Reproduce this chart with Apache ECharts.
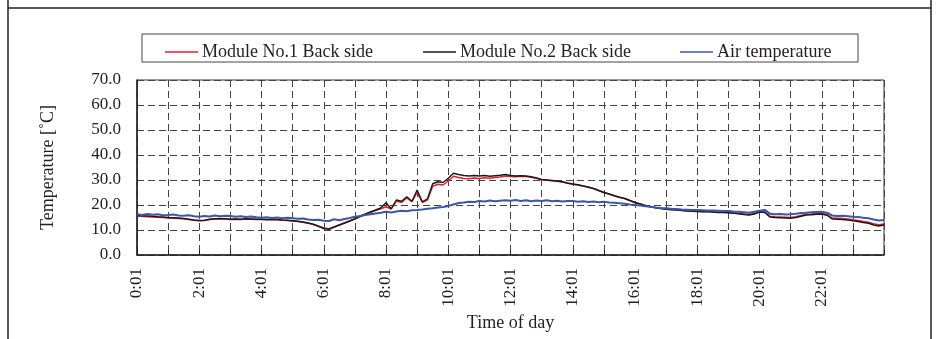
<!DOCTYPE html>
<html>
<head>
<meta charset="utf-8">
<script src="https://cdn.jsdelivr.net/npm/echarts@6/dist/echarts.min.js"></script>
<style>
html,body{margin:0;padding:0;background:#fff;}
#chart{width:937px;height:339px;}
</style>
</head>
<body>
<div id="chart"></div>
<script>
// Time step of samples (minutes from 0:01)
const stepMinutes = 10;
const seriesNames = ['Module No.1 Back side', 'Module No.2 Back side', 'Air temperature'];
const yTicks = [0, 10, 20, 30, 40, 50, 60, 70];
const xLabelHours = ['0:01','2:01','4:01','6:01','8:01','10:01','12:01','14:01','16:01','18:01','20:01','22:01'];

const module1 = [
  15.6, 15.5, 15.3, 15.2, 15.1, 15.0,
  14.8, 14.7, 14.6, 14.5, 14.2, 13.9,
  13.7, 13.8, 14.2, 14.4, 14.5, 14.4,
  14.2, 14.3, 14.2, 14.4, 14.3, 14.2,
  14.2, 14.1, 14.2, 14.1, 13.9, 13.8,
  13.6, 13.4, 13.1, 12.7, 12.2, 11.5,
  10.8, 10.5, 11.2, 12.0, 12.8, 13.6,
  14.4, 15.3, 16.2, 17.0, 17.8, 18.5,
  19.3, 18.4, 21.6, 21.0, 22.8, 21.3,
  25.0, 21.0, 22.0, 27.5, 28.3, 28.0,
  29.6, 31.5, 31.0, 30.6, 30.5, 30.8,
  30.6, 30.9, 30.7, 31.0, 31.2, 31.6,
  31.4, 31.3, 31.5, 31.4, 31.1, 30.7,
  30.1, 29.9, 29.7, 29.5, 29.2, 28.7,
  28.3, 28.0, 27.6, 27.2, 26.6, 25.8,
  25.0, 24.4, 23.7, 23.1, 22.6, 21.8,
  21.0, 20.4, 19.8, 19.3, 18.9, 18.6,
  18.4, 18.2, 18.1, 17.9, 17.7, 17.6,
  17.5, 17.4, 17.4, 17.3, 17.1, 17.1,
  17.0, 16.8, 16.6, 16.4, 16.2, 16.6,
  17.4, 17.2, 15.5, 15.3, 15.2, 15.1,
  15.0, 15.3, 15.8, 16.3, 16.4, 16.6,
  16.7, 16.2, 14.8, 14.7, 14.6, 14.4,
  14.1, 13.8, 13.4, 13.1, 12.5, 12.1,
  12.4
];

const module2 = [
  15.8, 15.7, 15.6, 15.5, 15.3, 15.2,
  15.0, 14.9, 14.8, 14.6, 14.3, 14.0,
  13.8, 13.9, 14.3, 14.5, 14.6, 14.5,
  14.3, 14.4, 14.3, 14.5, 14.4, 14.3,
  14.3, 14.2, 14.3, 14.2, 14.0, 13.9,
  13.7, 13.5, 13.2, 12.8, 12.3, 11.5,
  10.6, 10.3, 11.2, 12.0, 12.8, 13.6,
  14.5, 15.5, 16.4, 17.2, 18.0, 18.8,
  20.9, 18.5, 22.0, 21.5, 23.3, 21.5,
  26.0, 21.3, 22.5, 28.5, 29.3, 29.0,
  30.7, 32.7, 32.2, 31.8, 31.6, 31.8,
  31.6, 31.8, 31.5, 31.7, 31.9, 32.2,
  31.8, 31.6, 31.7, 31.6, 31.3, 30.8,
  30.2, 30.0, 29.8, 29.6, 29.3, 28.8,
  28.4, 28.1, 27.6, 27.1, 26.6, 25.8,
  25.0, 24.4, 23.7, 23.1, 22.6, 21.8,
  21.0, 20.4, 19.8, 19.3, 18.9, 18.6,
  18.3, 18.1, 18.0, 17.8, 17.6, 17.5,
  17.4, 17.3, 17.3, 17.2, 17.0, 17.0,
  16.9, 16.7, 16.5, 16.2, 16.0, 16.4,
  17.2, 17.0, 15.2, 15.0, 14.9, 14.8,
  14.7, 15.0, 15.5, 16.0, 16.1, 16.3,
  16.4, 15.9, 14.4, 14.3, 14.2, 14.0,
  13.7, 13.4, 13.0, 12.7, 12.0, 11.6,
  12.0
];

const airTemp = [
  16.3, 16.0, 16.4, 16.1, 16.3, 15.9,
  16.0, 16.2, 15.8, 15.7, 15.9, 15.5,
  15.3, 15.6, 15.4, 15.8, 15.5, 15.7,
  15.6, 15.3, 15.5, 15.2, 15.4, 15.1,
  14.9, 15.1, 14.8, 15.0, 14.7, 14.9,
  14.7, 14.5, 14.6, 14.2, 14.0, 14.1,
  13.7, 13.6, 14.3, 13.9, 14.4, 14.8,
  15.3, 15.6, 16.0, 16.3, 16.6, 16.9,
  17.3, 17.0, 17.4, 17.7, 17.5, 17.9,
  18.0, 18.2, 18.5, 18.7, 19.0, 19.2,
  19.6, 20.2, 20.8, 21.0, 21.3, 21.2,
  21.6, 21.4, 21.8, 21.5, 21.7, 21.9,
  21.7, 22.0, 21.6, 21.9, 21.5, 21.8,
  21.6, 21.9, 21.5, 21.7, 21.4, 21.6,
  21.6, 21.3, 21.5, 21.2, 21.4, 21.1,
  21.3, 21.0, 20.9, 20.7, 20.5, 20.2,
  20.0, 19.8, 19.5, 19.3, 19.0, 18.8,
  18.7, 18.5, 18.4, 18.2, 18.1, 18.0,
  18.0, 17.9, 17.8, 17.8, 17.7, 17.6,
  17.6, 17.4, 17.3, 17.1, 16.9, 17.3,
  17.7, 18.0, 16.5, 16.3, 16.4, 16.2,
  16.3, 16.5, 16.8, 16.9, 17.1, 17.2,
  17.3, 16.9, 15.8, 15.6, 15.7, 15.5,
  15.3, 15.2, 14.9, 14.7, 14.2, 13.8,
  14.0
];

const colors = ['#ed1c24', '#1a1a1a', '#3b57a8'];
const FONT = 'Liberation Serif';
const TXT = '#231f20';

function pairs(arr){ return arr.map((v,i)=>[i*stepMinutes, v]); }

const chart = echarts.init(document.getElementById('chart'), null, {renderer:'canvas'});

const legendLefts = [160, 418, 675];
const legends = seriesNames.map((n,i)=>({
  data:[{name:n, icon:'rect'}],
  left: legendLefts[i], top: 38,
  itemWidth: 33, itemHeight: 1.6, itemGap: 4,
  textStyle:{fontFamily:FONT, fontSize:18, color:TXT, padding:[0,0,0,-1]},
  selectedMode:false
}));

const option = {
  backgroundColor:'#fff',
  animation:false,
  color: colors,
  legend: legends,
  grid:{left:137, right:53, top:80, bottom:84, show:true, borderColor:'#333', borderWidth:1},
  xAxis:{
    type:'value', min:0, max:1440, interval:60,
    name:'Time of day', nameLocation:'middle', nameGap:52,
    nameTextStyle:{fontFamily:FONT, fontSize:18, color:TXT},
    axisLine:{show:true, onZero:false, lineStyle:{color:'#222', width:1.5}},
    axisTick:{show:true, inside:true, length:5, lineStyle:{color:'#222', width:1}},
    axisLabel:{
      rotate:90, margin:13, fontFamily:FONT, fontSize:17, color:TXT,
      formatter:(v)=>{ const h=Math.round(v/60); return (h%2===0 && h<24) ? xLabelHours[h/2] : ''; }
    },
    splitLine:{show:true, lineStyle:{color:'#444', width:1, type:[7,4]}}
  },
  yAxis:{
    type:'value', min:yTicks[0], max:yTicks[yTicks.length-1], interval:10,
    name:'Temperature [˚C]', nameLocation:'middle', nameGap:80,
    nameTextStyle:{fontFamily:FONT, fontSize:18, color:TXT},
    axisLine:{show:true, lineStyle:{color:'#222', width:1.5}},
    axisTick:{show:false},
    axisLabel:{margin:16, fontFamily:FONT, fontSize:17, color:TXT, formatter:(v)=>v.toFixed(1)},
    splitLine:{show:true, lineStyle:{color:'#444', width:1, type:[7,4]}}
  },
  series:[
    {name:seriesNames[0], type:'line', data:pairs(module1), showSymbol:false, symbol:'none', lineStyle:{width:1.4, color:colors[0]}, z:2},
    {name:seriesNames[1], type:'line', data:pairs(module2), showSymbol:false, symbol:'none', lineStyle:{width:1.4, color:colors[1]}, z:3},
    {name:seriesNames[2], type:'line', data:pairs(airTemp), showSymbol:false, symbol:'none', lineStyle:{width:2.2, color:colors[2]}, z:4}
  ],
  graphic:[
    {type:'rect', shape:{x:142, y:34, width:716, height:28}, style:{fill:'none', stroke:'#444', lineWidth:1}, silent:true, z:-1},
    {type:'line', shape:{x1:8, y1:0, x2:8, y2:339}, style:{stroke:'#222', lineWidth:1.5}, silent:true},
    {type:'line', shape:{x1:931, y1:0, x2:931, y2:339}, style:{stroke:'#222', lineWidth:1.5}, silent:true},
    {type:'line', shape:{x1:8, y1:8, x2:931, y2:8}, style:{stroke:'#222', lineWidth:1.5}, silent:true}
  ]
};
chart.setOption(option);
</script>
</body>
</html>
